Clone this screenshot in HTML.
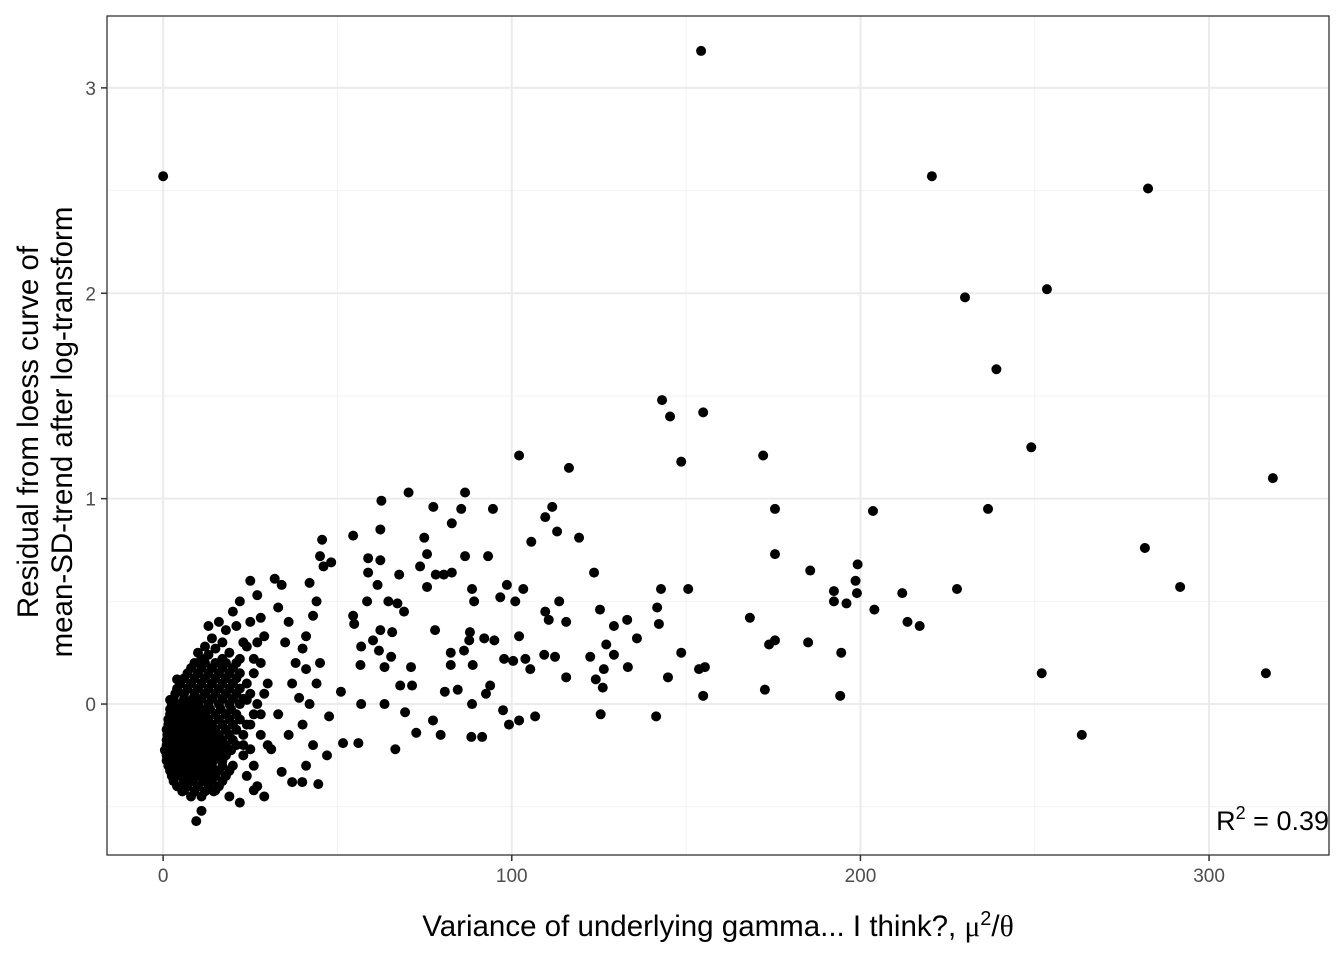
<!DOCTYPE html>
<html><head><meta charset="utf-8"><style>
body{margin:0;background:#fff;font-family:"Liberation Sans",sans-serif}
</style></head><body>
<svg id="chart" width="1344" height="960" xmlns="http://www.w3.org/2000/svg" style="display:block">
<g id="grid"></g>
<g id="dots"></g>
<rect x="107" y="16" width="1222" height="839" fill="none" stroke="#333" stroke-width="1.3"/>
<g id="axes"></g>
<text x="718" y="936" text-anchor="middle" font-size="29.5" fill="#000">Variance of underlying gamma... I think?, <tspan font-family="Liberation Serif">μ</tspan><tspan font-size="20" dy="-11">2</tspan><tspan dy="11">/</tspan><tspan font-family="Liberation Serif">θ</tspan></text>
<g transform="translate(38,432) rotate(-90)">
<text x="0" y="0" text-anchor="middle" font-size="29.5" fill="#000">Residual from loess curve of</text>
<text x="0" y="34" text-anchor="middle" font-size="29.5" fill="#000">mean-SD-trend after log-transform</text>
</g>
<text x="1329" y="830" text-anchor="end" font-size="27" fill="#000">R<tspan font-size="18" dy="-11">2</tspan><tspan dy="11"> =  0.39</tspan></text>
</svg>
<script>
const xTicks=[0,100,200,300];
const yTicks=[0,1,2,3];
const xMinor=[50,150,250];
const yMinor=[-0.5,0.5,1.5,2.5];
const outliers=[[0,2.57],[154.3,3.18],[220.5,2.57],[282.5,2.51],[230,1.98],[253.5,2.02],[239,1.63],[249,1.25],[318.3,1.10],[236.6,0.95],[281.6,0.76],[291.7,0.57],[316.3,0.15],[252,0.15],[263.5,-0.15],[227.7,0.56],[212,0.54],[213.5,0.40],[217,0.38],[204,0.46],[203.6,0.94],[199.2,0.68],[198.6,0.60],[199,0.54],[192.4,0.55],[192.4,0.50],[196,0.49],[194.5,0.25],[194.2,0.04],[185.6,0.65],[185,0.30],[175.5,0.31],[173.8,0.29],[172.6,0.07],[168.3,0.42],[175.5,0.73],[175.5,0.95],[172.1,1.21],[143.1,1.48],[145.4,1.40],[154.9,1.42],[148.6,1.18],[150.6,0.56],[142.8,0.56],[141.7,0.47],[142.2,0.39],[135.9,0.32],[133.1,0.41],[129.3,0.38],[148.6,0.25],[144.8,0.13],[153.7,0.17],[155.4,0.18],[154.9,0.04],[141.4,-0.06]];
const midPoints=[[116.4,1.15],[102.1,1.21],[119.3,0.81],[111.6,0.96],[109.6,0.91],[113,0.84],[105.6,0.79],[123.6,0.64],[125.3,0.46],[113.6,0.50],[109.6,0.45],[115.6,0.40],[110.6,0.41],[127.1,0.29],[122.5,0.23],[129.3,0.24],[133.3,0.18],[126.4,0.17],[124.1,0.12],[126.1,0.08],[125.5,-0.05],[115.6,0.13],[112.4,0.23],[109.3,0.24],[105.3,0.17],[100.4,0.21],[103.9,0.22],[102.1,0.33],[106.7,-0.06],[99.2,-0.10],[97.5,-0.03],[86.6,1.03],[94.6,0.95],[85.5,0.95],[77.5,0.96],[70.4,1.03],[62.6,0.99],[82.8,0.88],[74.9,0.81],[75.7,0.73],[93.2,0.72],[86.6,0.72],[73.7,0.67],[82.8,0.64],[80.5,0.63],[78.2,0.63],[75.7,0.57],[88.6,0.56],[98.6,0.58],[103.3,0.56],[96.7,0.52],[101,0.50],[89.2,0.50],[78,0.36],[88,0.35],[87.8,0.31],[92.1,0.32],[95,0.31],[86.3,0.26],[82.5,0.25],[97.8,0.22],[82.5,0.19],[88.8,0.19],[80.8,0.06],[84.5,0.07],[93.8,0.09],[92.6,0.05],[88.6,0],[77.4,-0.08],[79.6,-0.15],[88.4,-0.16],[91.5,-0.16],[102.1,-0.08],[62.3,0.85],[54.5,0.82],[45.6,0.80],[48.2,0.69],[58.8,0.71],[62.3,0.70],[67.7,0.63],[58.8,0.64],[61.5,0.58],[67.2,0.49],[64.6,0.50],[69.1,0.45],[58.5,0.50],[54.8,0.39],[54.5,0.43],[62.3,0.36],[65.7,0.35],[56.8,0.28],[60.2,0.31],[61.9,0.26],[65.4,0.23],[71.1,0.18],[63.5,0.18],[56.6,0.19],[68,0.09],[71.4,0.09],[63.5,0],[56.8,0],[69.4,-0.04],[72.6,-0.14],[66.6,-0.22],[56,-0.19],[51.6,-0.19],[47,-0.25],[44.5,-0.39],[39.9,-0.38],[47.6,-0.06],[51,0.06]];
const clusterPoints=[[9,0.2],[12,0.2],[15,0.2],[18,0.2],[21,0.2],[7,0.15],[10,0.15],[13,0.15],[16,0.15],[19,0.15],[22,0.15],[5,0.1],[8,0.1],[11,0.1],[14,0.1],[17,0.1],[20,0.1],[24,0.1],[3.5,0.05],[6,0.05],[9,0.05],[12,0.05],[15,0.05],[18,0.05],[21,0.05],[25,0.05],[2.5,0],[5,0],[7.5,0],[10,0],[13,0],[16,0],[19,0],[22,0],[27,0],[2,-0.05],[4.5,-0.05],[7,-0.05],[9.5,-0.05],[12,-0.05],[15,-0.05],[18,-0.05],[21,-0.05],[1.5,-0.1],[4,-0.1],[6.5,-0.1],[9,-0.1],[11.5,-0.1],[14,-0.1],[17,-0.1],[20,-0.1],[24,-0.1],[1.2,-0.15],[3.5,-0.15],[6,-0.15],[8.5,-0.15],[11,-0.15],[13.5,-0.15],[16,-0.15],[19,-0.15],[23,-0.15],[28,-0.15],[1,-0.2],[3,-0.2],[5.5,-0.2],[8,-0.2],[10.5,-0.2],[13,-0.2],[15.5,-0.2],[18,-0.2],[21,-0.2],[1,-0.25],[3,-0.25],[5.5,-0.25],[8,-0.25],[10.5,-0.25],[13,-0.25],[15.5,-0.25],[18,-0.25],[1.5,-0.3],[4,-0.3],[6.5,-0.3],[9,-0.3],[11.5,-0.3],[14,-0.3],[17,-0.3],[20,-0.3],[2.5,-0.35],[5,-0.35],[7.5,-0.35],[10,-0.35],[12.5,-0.35],[15,-0.35],[18,-0.35],[4,-0.4],[7,-0.4],[10,-0.4],[13,-0.4],[16,-0.4],[8,-0.45],[11,-0.45],[9.5,-0.57],[11,-0.52],[12,0.28],[14,0.32],[16,0.4],[18,0.36],[20,0.45],[22,0.5],[21,0.38],[24,0.28],[25,0.6],[27,0.53],[28,0.42],[29,0.33],[26,0.22],[30,0.1],[32,0.61],[34,0.58],[33,0.47],[36,0.4],[35,0.3],[38,0.2],[37,0.1],[39,0.03],[33,-0.05],[36,-0.15],[31,-0.22],[34,-0.33],[37,-0.38],[40,0.27],[41,0.17],[42,0.59],[45,0.72],[46,0.67],[44,0.5],[43,0.43],[41,0.33],[45,0.2],[44,0.1],[42,0],[40,-0.1],[43,-0.2],[41,-0.3],[23,-0.25],[26,-0.3],[24,-0.35],[22,-0.48],[27,-0.4],[29,-0.45],[25,-0.1],[28,-0.05],[30,-0.2],[26,-0.42],[19,-0.45],[15,-0.42],[6,-0.42],[3,-0.1],[2,0.02],[4,0.12],[10,0.25],[13,0.38],[17,0.3]];
const clusterFill=[[8,0.175],[11,0.175],[14,0.175],[17,0.175],[20,0.175],[6,0.125],[9,0.125],[12,0.125],[15,0.125],[18,0.125],[21,0.125],[4,0.075],[7,0.075],[10,0.075],[13,0.075],[16,0.075],[19,0.075],[22,0.075],[3,0.025],[6,0.025],[8.5,0.025],[11,0.025],[14,0.025],[17,0.025],[20,0.025],[23,0.025],[2,-0.025],[4,-0.025],[6,-0.025],[8.5,-0.025],[11,-0.025],[13.5,-0.025],[16.5,-0.025],[19.5,-0.025],[1.5,-0.075],[3,-0.075],[5.5,-0.075],[8,-0.075],[10.5,-0.075],[13,-0.075],[16,-0.075],[19,-0.075],[22,-0.075],[1,-0.125],[2.5,-0.125],[5,-0.125],[7.5,-0.125],[10,-0.125],[12.5,-0.125],[15,-0.125],[18,-0.125],[21,-0.125],[1,-0.175],[2,-0.175],[4.5,-0.175],[7,-0.175],[9.5,-0.175],[12,-0.175],[14.5,-0.175],[17,-0.175],[20,-0.175],[0.5,-0.225],[2,-0.225],[4.5,-0.225],[7,-0.225],[9.5,-0.225],[12,-0.225],[14.5,-0.225],[17,-0.225],[19.5,-0.225],[1,-0.275],[2.5,-0.275],[4.5,-0.275],[7,-0.275],[9.5,-0.275],[12,-0.275],[14.5,-0.275],[17,-0.275],[2,-0.325],[3.5,-0.325],[6,-0.325],[8.5,-0.325],[11,-0.325],[13.5,-0.325],[16,-0.325],[19,-0.325],[3,-0.375],[6,-0.375],[8.5,-0.375],[11.5,-0.375],[14,-0.375],[17,-0.375],[5.5,-0.425],[9,-0.425],[12,-0.425],[14.5,-0.425],[19,0.25],[23,0.3],[22,0.22],[25,0.4],[27,0.3],[26,0.15],[28,0.2],[24,0.02],[26,-0.05],[29,0.05],[23,-0.2],[25,-0.22],[15,0.27],[17,0.22],[13,0.24],[11,0.22]];
const ns='http://www.w3.org/2000/svg';
const L=107,R=1329,T=16,B=855;
const xMin=-16.1,xMax=334.4,yMin=-0.735,yMax=3.35;
function sx(v){return L+(v-xMin)/(xMax-xMin)*(R-L);}
function sy(v){return B-(v-yMin)/(yMax-yMin)*(B-T);}
function mk(tag,attrs,parent){const e=document.createElementNS(ns,tag);for(const k in attrs)e.setAttribute(k,attrs[k]);parent.appendChild(e);return e;}
const grid=document.getElementById('grid'),axes=document.getElementById('axes'),dots=document.getElementById('dots');
mk('rect',{x:L,y:T,width:R-L,height:B-T,fill:'#fff'},grid);
xMinor.forEach(v=>{const l=mk('line',{x1:sx(v),x2:sx(v),y1:T,y2:B,stroke:'#f2f2f2','stroke-width':1},grid);});
yMinor.forEach(v=>{const l=mk('line',{x1:L,x2:R,y1:sy(v),y2:sy(v),stroke:'#f2f2f2','stroke-width':1},grid);});
xTicks.forEach(v=>{const l=mk('line',{x1:sx(v),x2:sx(v),y1:T,y2:B,stroke:'#ebebeb','stroke-width':2},grid);
const t=mk('line',{x1:sx(v),x2:sx(v),y1:B,y2:B+6,stroke:'#333','stroke-width':1.5},axes);
const tx=mk('text',{x:sx(v),y:B+27,'text-anchor':'middle','font-size':19,fill:'#4d4d4d'},axes);tx.textContent=v;});
yTicks.forEach(v=>{const l=mk('line',{x1:L,x2:R,y1:sy(v),y2:sy(v),stroke:'#ebebeb','stroke-width':2},grid);
const t=mk('line',{x1:L-6,x2:L,y1:sy(v),y2:sy(v),stroke:'#333','stroke-width':1.5},axes);
const tx=mk('text',{x:L-11,y:sy(v)+7,'text-anchor':'end','font-size':19,fill:'#4d4d4d'},axes);tx.textContent=v;});
[outliers,midPoints,clusterPoints,clusterFill].forEach(arr=>arr.forEach(p=>{const c=mk('circle',{cx:sx(p[0]),cy:sy(p[1]),r:5,fill:'#000'},dots);

}));
</script>
</body></html>
